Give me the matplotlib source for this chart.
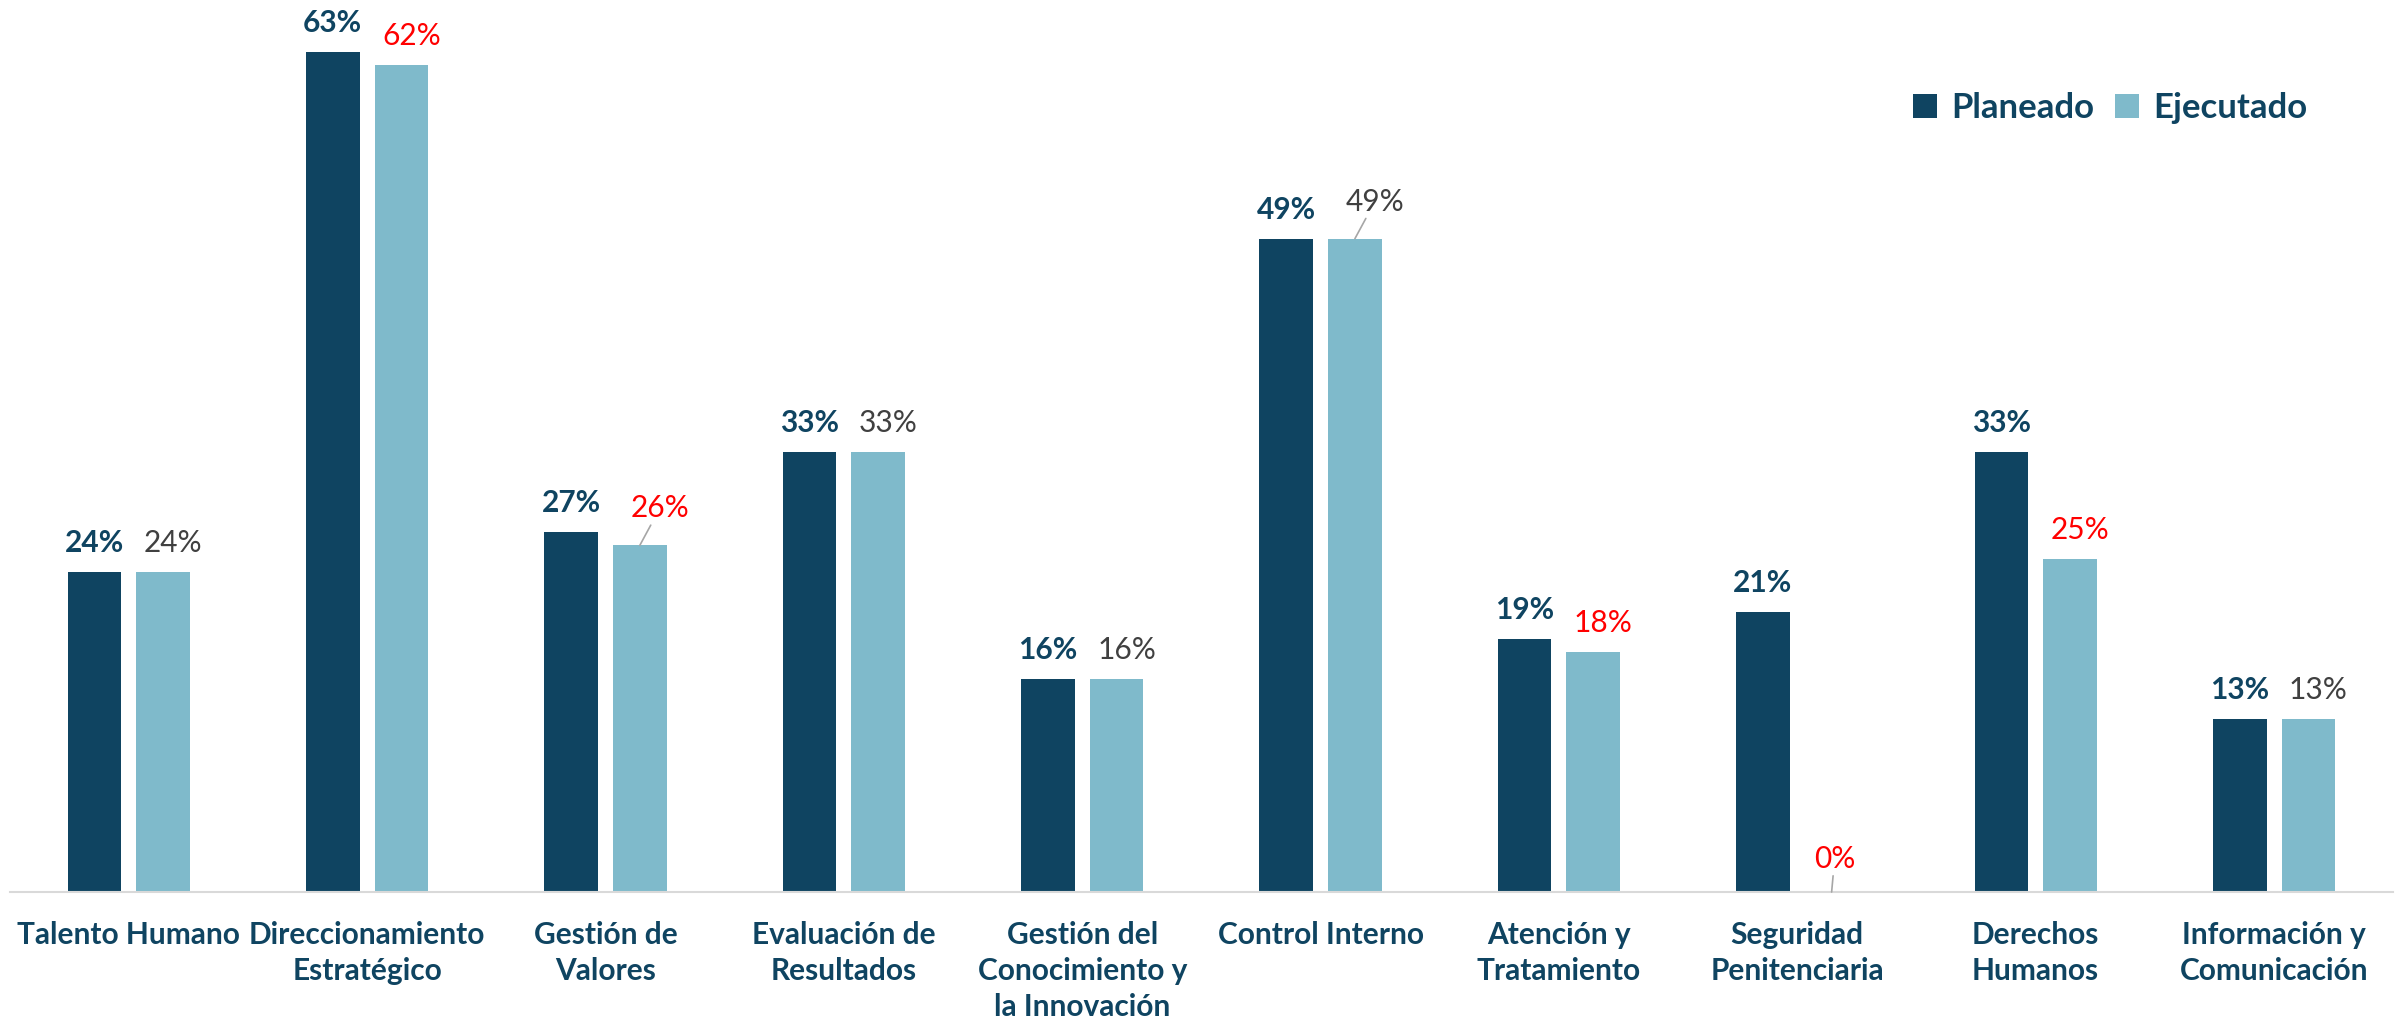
import matplotlib
matplotlib.use('Agg')
import matplotlib.pyplot as plt
import numpy as np

plt.rcParams['font.family'] = ['Lato', 'DejaVu Sans']

categorias = ['Talento Humano', 'Direccionamiento\nEstratégico', 'Gestión de\nValores',
              'Evaluación de\nResultados', 'Gestión del\nConocimiento y\nla Innovación',
              'Control Interno', 'Atención y\nTratamiento', 'Seguridad\nPenitenciaria',
              'Derechos\nHumanos', 'Información y\nComunicación']
planeado = [24, 63, 27, 33, 16, 49, 19, 21, 33, 13]
ejecutado = [24, 62, 26, 33, 16, 49, 18, 0, 25, 13]
# etiquetas de ejecutado que llevan linea guia
con_guia = [2, 5, 7]

azul = '#0F4461'
celeste = '#7FBACB'
rojo = '#FF0000'
gris = '#404040'

fig = plt.figure(figsize=(23.98, 10.29), dpi=100)
ax = fig.add_axes([0.004, 0.1331, 0.994, 0.8669])

x = np.arange(len(categorias))
ancho = 0.225
sep = 0.0315

b1 = ax.bar(x - ancho / 2 - sep, planeado, ancho, color=azul, label='Planeado')
b2 = ax.bar(x + ancho / 2 + sep, ejecutado, ancho, color=celeste, label='Ejecutado')

for xi, v in zip(x, planeado):
    ax.annotate(f'{v}%', (xi - ancho / 2 - sep, v), xytext=(0, 29), textcoords='offset pixels',
                ha='center', va='center', fontsize=21.5, fontweight='bold', color=azul)

for i, (xi, v) in enumerate(zip(x, ejecutado)):
    col = rojo if v < planeado[i] else gris
    xb = xi + ancho / 2 + sep
    if i in con_guia:
        if i == 7:
            dx, dy = 3, 33
        else:
            dx, dy = 20, 37
        ax.annotate(f'{v}%', (xb, v), xytext=(dx, dy), textcoords='offset pixels',
                    ha='center', va='center', fontsize=21.5, color=col,
                    arrowprops=dict(arrowstyle='-', color='#A6A6A6', lw=1.2,
                                    shrinkA=0, shrinkB=0))
    else:
        ax.annotate(f'{v}%', (xb, v), xytext=(10, 29), textcoords='offset pixels',
                    ha='center', va='center', fontsize=21.5, color=col)

ax.set_xlim(-0.5, len(categorias) - 0.5)
ax.set_ylim(0, 66.9)
ax.set_xticks(x)
ax.set_xticklabels(categorias, fontsize=21.5, fontweight='bold', color=azul, linespacing=1.35)
ax.tick_params(axis='x', length=0, pad=21)
ax.set_yticks([])
for s in ['top', 'right', 'left']:
    ax.spines[s].set_visible(False)
ax.spines['bottom'].set_color('#D9D9D9')
ax.spines['bottom'].set_linewidth(1.5)

leg = fig.legend(handles=[b1, b2], loc='center', bbox_to_anchor=(0.88, 0.895), ncol=2,
                 frameon=False, fontsize=25, handlelength=0.7, handleheight=0.7,
                 handletextpad=0.4, columnspacing=0.6)
for t in leg.get_texts():
    t.set_color(azul)
    t.set_fontweight('bold')

fig.savefig('out.png', dpi=100)
